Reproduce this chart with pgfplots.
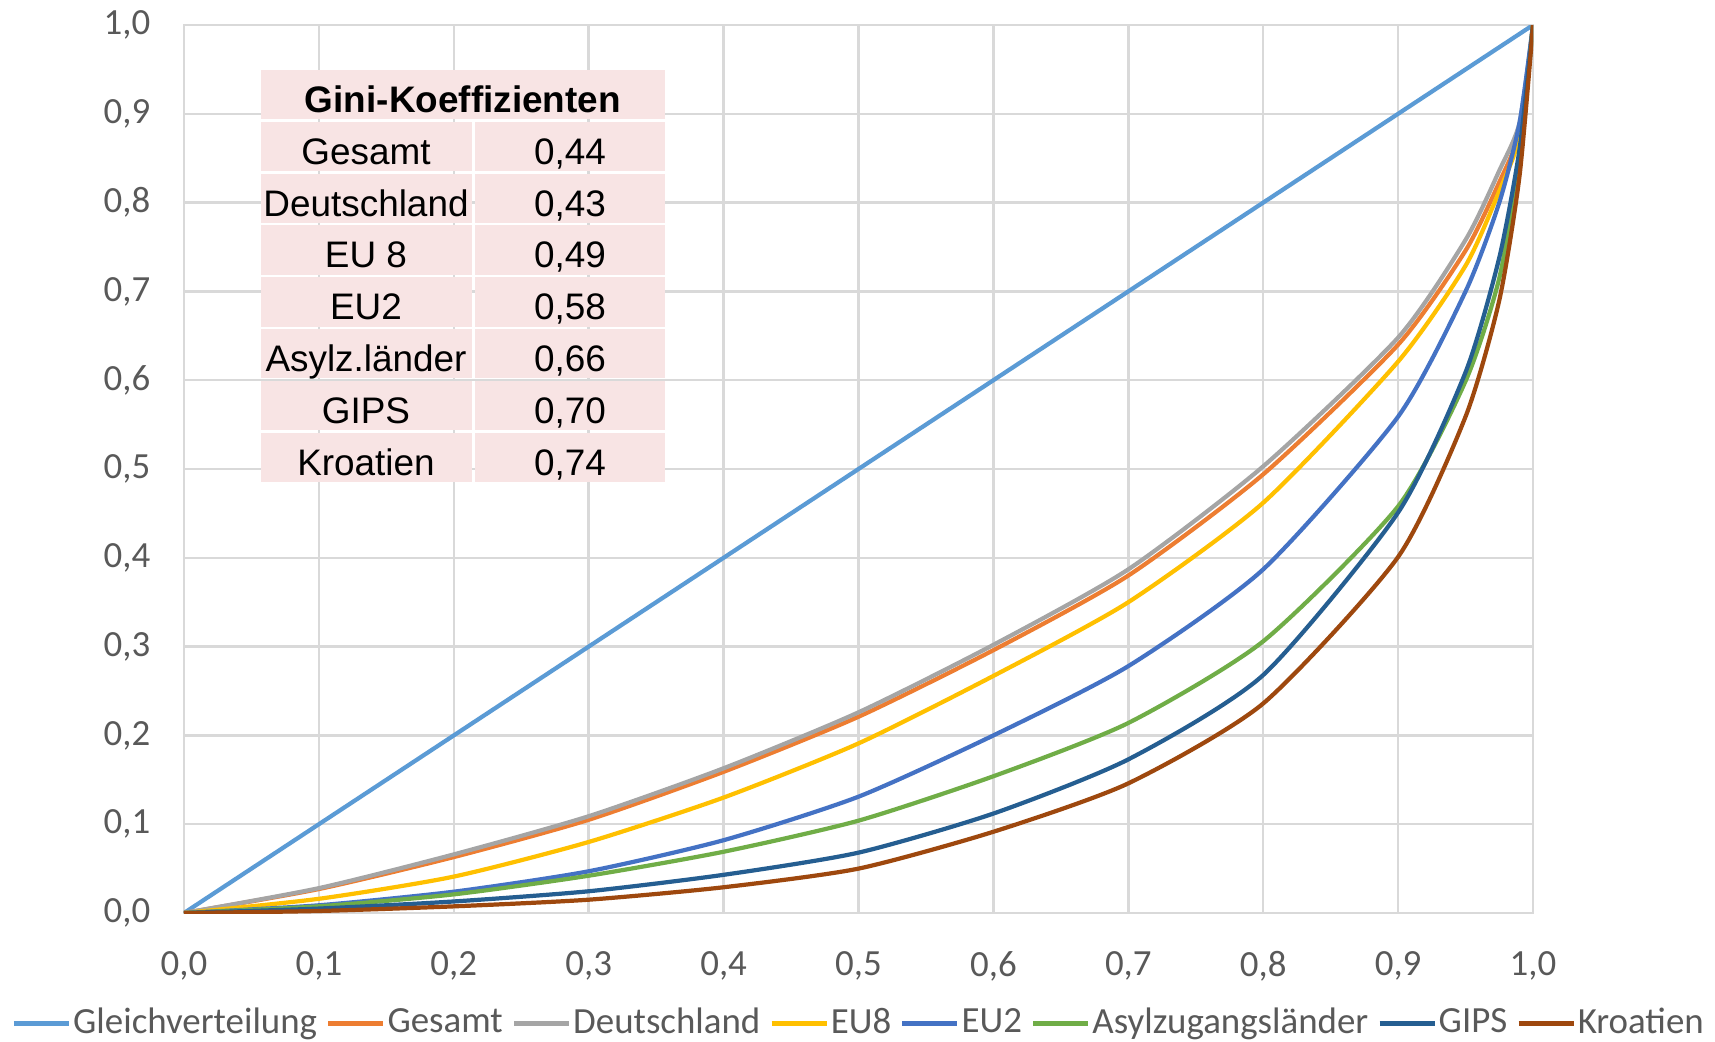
\documentclass[border=0pt]{standalone}
\usepackage{pgfplots}
\pgfplotsset{compat=1.18}
\usepackage{fontspec}
\setmainfont{Carlito}
\newfontfamily\arial{Liberation Sans}

\definecolor{gleich}{HTML}{5B9BD5}
\definecolor{gesamt}{HTML}{ED7D31}
\definecolor{deutsch}{HTML}{A5A5A5}
\definecolor{eueight}{HTML}{FFC000}
\definecolor{eutwo}{HTML}{4472C4}
\definecolor{asyl}{HTML}{70AD47}
\definecolor{gips}{HTML}{255E91}
\definecolor{kroat}{HTML}{9E480E}
\definecolor{gridc}{HTML}{D9D9D9}
\definecolor{tickc}{HTML}{595959}
\definecolor{pink}{HTML}{F8E4E4}

\begin{document}
\begin{tikzpicture}
\useasboundingbox (0,0) rectangle (17.15cm,10.41cm);
\begin{axis}[
    at={(1.84cm,1.28cm)}, anchor=south west,
    scale only axis, width=13.49cm, height=8.88cm,
    xmin=0, xmax=1, ymin=0, ymax=1,
    xtick={0,0.1,0.2,0.3,0.4,0.5,0.6,0.7,0.8,0.9,1},
    ytick={0,0.1,0.2,0.3,0.4,0.5,0.6,0.7,0.8,0.9,1},
    xticklabels={{0,0},{0,1},{0,2},{0,3},{0,4},{0,5},{0,6},{0,7},{0,8},{0,9},{1,0}},
    yticklabels={{0,0},{0,1},{0,2},{0,3},{0,4},{0,5},{0,6},{0,7},{0,8},{0,9},{1,0}},
    grid=major,
    major grid style={draw=gridc, line width=0.7pt},
    axis line style={draw=gridc, line width=0.7pt},
    major tick length=0pt,
    tick label style={font=\fontsize{10.5}{12}\selectfont, text=tickc},
    xticklabel style={anchor=north, inner sep=0pt, yshift=-0.38cm},
    yticklabel style={anchor=east, inner sep=0pt, xshift=-0.33cm},
    legend style={at={(0.5,-0.124)}, anchor=center, draw=none, fill=none,
        font=\fontsize{10.5}{12}\selectfont, text=tickc,
        inner sep=0pt, nodes={inner sep=0.5pt},
        /tikz/every even column/.append style={column sep=0.07cm},
        /tikz/every odd column/.append style={column sep=0cm}},
    legend columns=8,
    legend cell align=left,
    legend image code/.code={\draw[#1, line width=1.4pt] (0cm,0cm) -- (0.55cm,0cm);},
    every axis plot/.append style={line width=1.2pt, line join=round},
    curve/.style={smooth, tension=0.4},
]
\addplot[gleich] coordinates {(0,0) (1,1)};
\addlegendentry{Gleichverteilung}

\addplot[gesamt, curve] coordinates {
 (0,0) (0.1,0.027) (0.2,0.063) (0.3,0.105) (0.4,0.159) (0.5,0.221) (0.6,0.296)
 (0.7,0.380) (0.8,0.494) (0.9,0.640) (0.95,0.746) (0.975,0.823) (0.99,0.880) (1,1)};
\addlegendentry{Gesamt}

\addplot[deutsch, curve] coordinates {
 (0,0) (0.1,0.028) (0.2,0.066) (0.3,0.109) (0.4,0.163) (0.5,0.226) (0.6,0.302)
 (0.7,0.387) (0.8,0.503) (0.9,0.648) (0.95,0.758) (0.975,0.836) (0.99,0.890) (1,1)};
\addlegendentry{Deutschland}

\addplot[eueight, curve] coordinates {
 (0,0) (0.1,0.016) (0.2,0.041) (0.3,0.080) (0.4,0.130) (0.5,0.191) (0.6,0.267)
 (0.7,0.350) (0.8,0.462) (0.9,0.621) (0.95,0.729) (0.975,0.813) (0.99,0.875) (1,1)};
\addlegendentry{EU8}

\addplot[eutwo, curve] coordinates {
 (0,0) (0.1,0.0087) (0.2,0.024) (0.3,0.047) (0.4,0.082) (0.5,0.131) (0.6,0.200)
 (0.7,0.278) (0.8,0.387) (0.9,0.559) (0.95,0.700) (0.975,0.800) (0.99,0.890) (1,1)};
\addlegendentry{EU2}

\addplot[asyl, curve] coordinates {
 (0,0) (0.1,0.0075) (0.2,0.021) (0.3,0.042) (0.4,0.069) (0.5,0.104) (0.6,0.154)
 (0.7,0.214) (0.8,0.306) (0.9,0.458) (0.95,0.599) (0.975,0.715) (0.99,0.850) (1,1)};
\addlegendentry{Asylzugangsländer}

\addplot[gips, curve] coordinates {
 (0,0) (0.1,0.005) (0.2,0.013) (0.3,0.0245) (0.4,0.043) (0.5,0.068) (0.6,0.112)
 (0.7,0.173) (0.8,0.268) (0.9,0.451) (0.95,0.609) (0.975,0.738) (0.99,0.860) (1,1)};
\addlegendentry{GIPS}

\addplot[kroat, curve] coordinates {
 (0,0) (0.1,0.0023) (0.2,0.0075) (0.3,0.015) (0.4,0.029) (0.5,0.050) (0.6,0.0915)
 (0.7,0.146) (0.8,0.236) (0.9,0.401) (0.95,0.559) (0.975,0.690) (0.99,0.830) (1,1)};
\addlegendentry{Kroatien}
\end{axis}

% Gini table
\fill[pink] (2.605cm,9.71cm) rectangle (6.65cm,9.216cm);
\node[anchor=base, font=\arial\bfseries\fontsize{10.5}{12}\selectfont] at (4.628cm,9.284cm) {Gini-Koeffizienten};
\foreach \lab/\val [count=\k from 0] in {Gesamt/{0,44},Deutschland/{0,43},EU 8/{0,49},EU2/{0,58},Asylz.länder/{0,66},GIPS/{0,70},Kroatien/{0,74}}{
  \pgfmathsetmacro{\top}{9.193-0.518*\k}
  \fill[pink] (2.605cm,\top cm) rectangle (4.72cm,\top cm-0.494cm);
  \fill[pink] (4.745cm,\top cm) rectangle (6.65cm,\top cm-0.494cm);
  \node[anchor=base, font=\arial\fontsize{10.5}{12}\selectfont] at (3.66cm,\top cm-0.426cm) {\lab};
  \node[anchor=base, font=\arial\fontsize{10.5}{12}\selectfont] at (5.70cm,\top cm-0.426cm) {\val};
}
\end{tikzpicture}
\end{document}
